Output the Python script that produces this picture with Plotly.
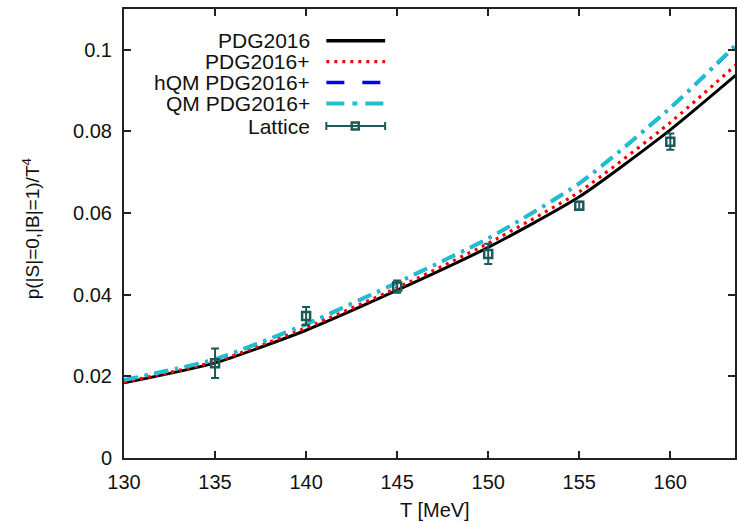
import plotly.graph_objects as go

# ---- data ----
T = [130, 135, 140, 145, 150, 155, 160, 163.6]
pdg2016 = [0.0184, 0.0233, 0.0313, 0.0411, 0.0516, 0.0640, 0.0804, 0.0938]
pdg2016_plus = [0.0186, 0.0236, 0.0319, 0.0417, 0.0526, 0.0652, 0.0822, 0.0963]
hqm_pdg2016_plus = [0.0191, 0.0242, 0.0328, 0.0429, 0.0538, 0.0672, 0.0857, 0.1010]
qm_pdg2016_plus = [0.0191, 0.0242, 0.0328, 0.0430, 0.0538, 0.0673, 0.0858, 0.1012]

lat_T = [135, 140, 145, 150, 155, 160]
lat_y = [0.0232, 0.0348, 0.0420, 0.0500, 0.0618, 0.0775]
lat_err = [0.0036, 0.0022, 0.0015, 0.0025, 0.0010, 0.0020]

x_ticks = [130, 135, 140, 145, 150, 155, 160]
y_ticks = [0, 0.02, 0.04, 0.06, 0.08, 0.1]
y_ticktext = ["0", "0.02", "0.04", "0.06", "0.08", "0.1"]

legend_names = ["PDG2016", "PDG2016+", "hQM PDG2016+", "QM PDG2016+", "Lattice"]

# ---- styles ----
FONT = "Liberation Sans, Arial, sans-serif"
C_BLACK = "#000000"
C_RED = "#ff0000"
C_BLUE = "#0000ff"
C_CYAN = "#20bfd0"
C_LAT = "#1d5959"
AX = "#222222"
SMOOTH = 0.6
CYAN_DASH = "14px,7px,3px,7px"

W, H = 737, 522
ML, MR, MT, MB = 124, 0, 9, 64
PW, PH = W - ML - MR, H - MT - MB


def px_x(p):
    return (p - ML) / PW


def px_y(p):
    return (H - MB - p) / PH


fig = go.Figure()

fig.add_trace(go.Scatter(x=T, y=pdg2016, mode="lines",
                         line=dict(color=C_BLACK, width=3, shape="spline", smoothing=SMOOTH),
                         showlegend=False))
fig.add_trace(go.Scatter(x=T, y=pdg2016_plus, mode="lines",
                         line=dict(color=C_RED, width=3.2, dash="3px,5px", shape="spline", smoothing=SMOOTH),
                         showlegend=False))
fig.add_trace(go.Scatter(x=T, y=hqm_pdg2016_plus, mode="lines",
                         line=dict(color=C_BLUE, width=3, dash=CYAN_DASH, shape="spline", smoothing=SMOOTH),
                         showlegend=False))
fig.add_trace(go.Scatter(x=T, y=qm_pdg2016_plus, mode="lines",
                         line=dict(color=C_CYAN, width=4, dash=CYAN_DASH, shape="spline", smoothing=SMOOTH),
                         showlegend=False))
fig.add_trace(go.Scatter(x=lat_T, y=lat_y, mode="markers",
                         marker=dict(symbol="square-open", size=8, color=C_LAT, line=dict(width=2.5, color=C_LAT)),
                         error_y=dict(type="data", array=lat_err, color=C_LAT, thickness=2, width=4),
                         showlegend=False))

# ---- manual legend (text left, sample right, as in reference) ----
rows_px = [40.7, 61.7, 82.5, 103.5, 126]
text_right = px_x(313)
s0, s1 = px_x(327), px_x(386)
styles = [
    dict(color=C_BLACK, width=3.5),
    dict(color=C_RED, width=3.2, dash="3px,5px"),
    dict(color=C_BLUE, width=3.5, dash="18px,18px"),
    dict(color=C_CYAN, width=4, dash="18px,8px,5px,8px"),
    dict(color=C_LAT, width=2),
]
for name, ypx, st in zip(legend_names, rows_px, styles):
    yy = px_y(ypx)
    fig.add_annotation(x=text_right, y=yy, xref="paper", yref="paper", text=name, showarrow=False,
                       xanchor="right", yanchor="middle", font=dict(family=FONT, size=21, color="#111111"))
    fig.add_shape(type="line", xref="paper", yref="paper", x0=s0, x1=s1, y0=yy, y1=yy, line=st)
# lattice legend caps + square
for xp in (327, 386):
    fig.add_shape(type="line", xref="paper", yref="paper", x0=px_x(xp), x1=px_x(xp),
                  y0=px_y(rows_px[4] - 4), y1=px_y(rows_px[4] + 4), line=dict(color=C_LAT, width=2))
fig.add_shape(type="rect", xref="paper", yref="paper", x0=px_x(352.5), x1=px_x(359.5),
              y0=px_y(rows_px[4] + 3.5), y1=px_y(rows_px[4] - 3.5), line=dict(color=C_LAT, width=2.5),
              fillcolor="rgba(0,0,0,0)")

# axis titles
fig.add_annotation(x=147.1, y=px_y(510), xref="x", yref="paper", text="T [MeV]", showarrow=False,
                   xanchor="center", yanchor="middle", font=dict(family=FONT, size=20, color="#111111"))
fig.add_annotation(x=px_x(31), y=px_y(229), xref="paper", yref="paper",
                   text="p(|S|=0,|B|=1)/T<sup>4</sup>", showarrow=False, textangle=-90,
                   xanchor="center", yanchor="middle", font=dict(family=FONT, size=19, color="#111111"))

fig.update_xaxes(range=[130, 130 + PW / 18.27], tickvals=x_ticks, ticks="inside", ticklen=7, tickwidth=1.5,
                 tickcolor=AX, showline=True, linecolor=AX, linewidth=2, mirror="ticks", showgrid=False,
                 zeroline=False, ticklabelstandoff=5, tickfont=dict(family=FONT, size=20, color="#111111"))
fig.update_yaxes(range=[0, 0.110], tickvals=y_ticks, ticktext=y_ticktext, ticks="inside", ticklen=7,
                 tickwidth=1.5, tickcolor=AX, showline=True, linecolor=AX, linewidth=2, mirror="ticks",
                 showgrid=False, zeroline=False, ticklabelstandoff=6,
                 tickfont=dict(family=FONT, size=20, color="#111111"))

fig.update_layout(width=W, height=H, margin=dict(l=ML, r=MR, t=MT, b=MB), plot_bgcolor="white",
                  paper_bgcolor="white", showlegend=False)

fig.write_html("out.html")
